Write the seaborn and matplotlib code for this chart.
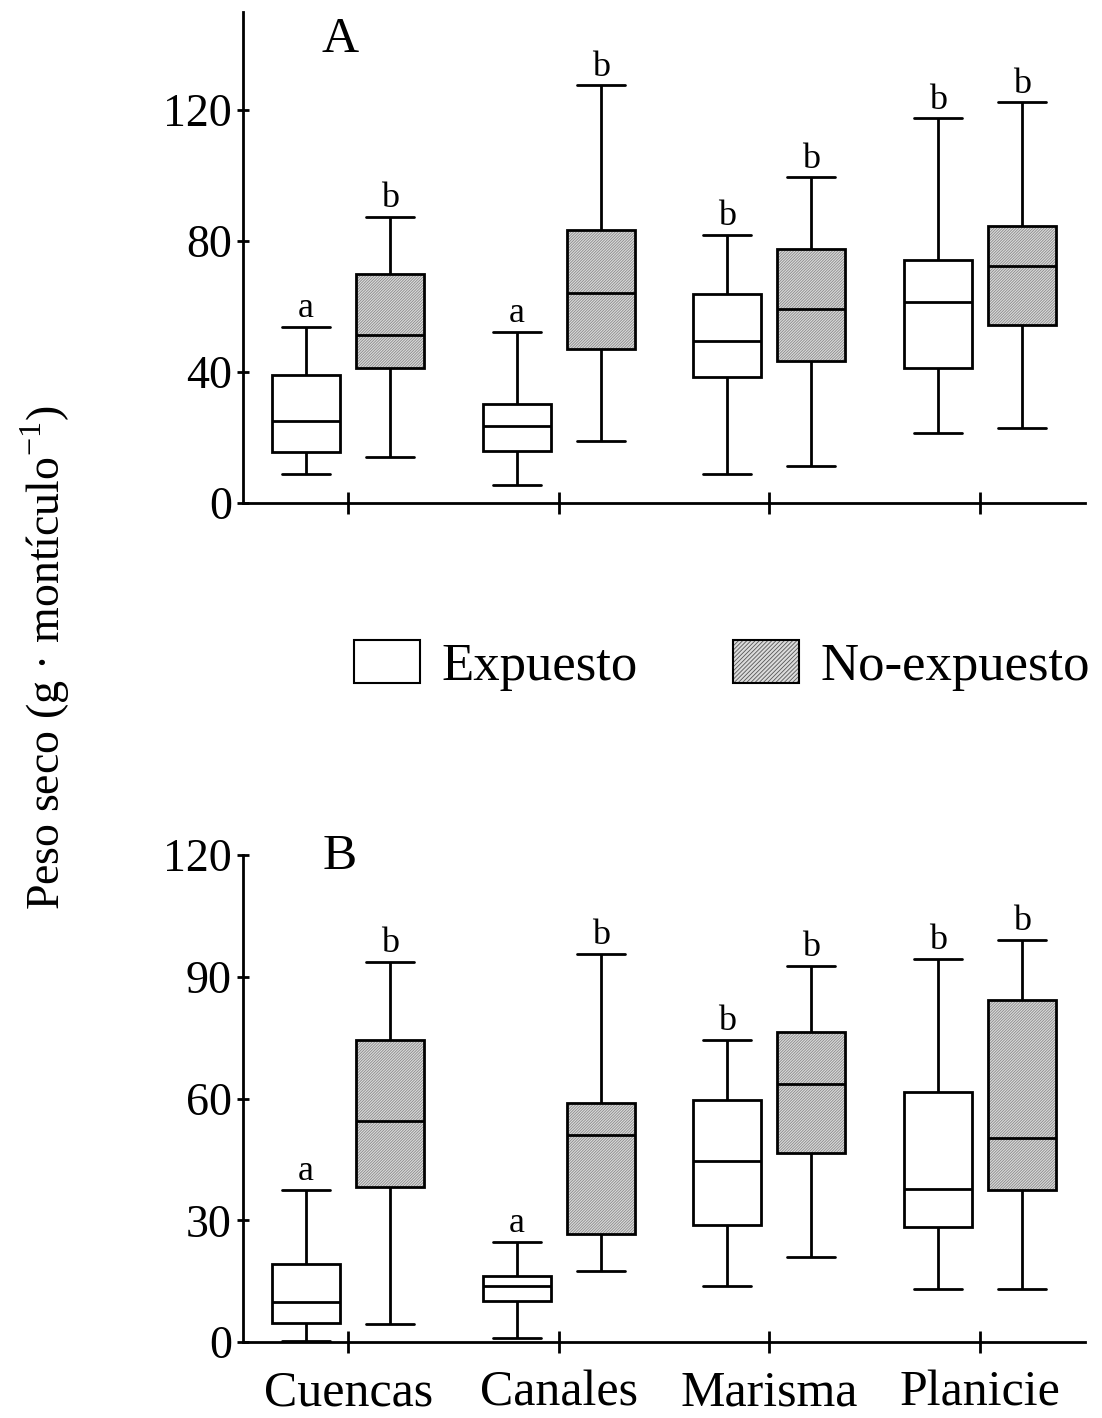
import numpy as np
import pandas as pd
import matplotlib
matplotlib.use("Agg")
import matplotlib.pyplot as plt
from matplotlib.patches import Patch, PathPatch
import seaborn as sns

# ---------------- data ----------------
sites = ["Cuencas", "Canales", "Marisma", "Planicie"]
treatments = ["Expuesto", "No-expuesto"]

# five-number summaries [min, q1, median, q3, max] per site
A_expuesto = [[8.9, 15.6, 25.1, 39.2, 53.9],
              [5.5, 15.9, 23.6, 30.3, 52.3],
              [8.9, 38.6, 49.6, 63.7, 82.0],
              [21.4, 41.3, 61.5, 74.1, 117.5]]
A_noexpuesto = [[14.1, 41.3, 51.4, 69.8, 87.5],
                [19.0, 47.1, 64.0, 83.3, 127.6],
                [11.3, 43.5, 59.1, 77.7, 99.5],
                [23.0, 54.5, 72.5, 84.5, 122.4]]
B_expuesto = [[0.2, 4.7, 9.9, 19.2, 37.5],
              [1.0, 10.1, 13.8, 16.3, 24.6],
              [13.8, 28.8, 44.6, 59.6, 74.4],
              [13.1, 28.3, 37.7, 61.6, 94.4]]
B_noexpuesto = [[4.4, 38.2, 54.5, 74.4, 93.6],
                [17.5, 26.6, 51.0, 58.9, 95.6],
                [20.9, 46.6, 63.6, 76.4, 92.7],
                [13.1, 37.5, 50.3, 84.3, 99.1]]

A_letters_exp = ["a", "a", "b", "b"]
A_letters_noexp = ["b", "b", "b", "b"]
B_letters_exp = ["a", "a", "b", "b"]
B_letters_noexp = ["b", "b", "b", "b"]

A_yticks = [0, 40, 80, 120]
B_yticks = [0, 30, 60, 90, 120]


def make_df(exp, noexp):
    rows = []
    for s, vals in zip(sites, exp):
        for v in vals:
            rows.append((s, treatments[0], v))
    for s, vals in zip(sites, noexp):
        for v in vals:
            rows.append((s, treatments[1], v))
    return pd.DataFrame(rows, columns=["site", "trat", "peso"])


sns.set_style("ticks")
plt.rcParams["font.family"] = ["Liberation Serif", "DejaVu Serif"]
plt.rcParams["mathtext.fontset"] = "custom"
plt.rcParams["mathtext.rm"] = "Liberation Serif"
for k in ("text.color", "axes.labelcolor", "xtick.color", "ytick.color",
          "axes.edgecolor"):
    plt.rcParams[k] = "black"
HCOL = "#8a8a8a"
plt.rcParams["hatch.color"] = HCOL
plt.rcParams["hatch.linewidth"] = 0.6

LW = 2.0
GRAY = "#dcdcdc"
HATCH = "/" * 12
palette = {"Expuesto": "white", "No-expuesto": GRAY}

fig = plt.figure(figsize=(11.02, 14.18), dpi=100)
axA = fig.add_axes([0.2205, 0.6453, 0.7641, 0.3463])
axB = fig.add_axes([0.2205, 0.0536, 0.7641, 0.3434])

BOXW = 0.4 * (1 - 0.19)


def draw(ax, exp, noexp, lexp, lnoexp, ylim, yticks, label, lab_xy, show_x):
    df = make_df(exp, noexp)
    sns.boxplot(data=df, x="site", y="peso", hue="trat", order=sites,
                hue_order=treatments, palette=palette, whis=(0, 100),
                width=0.8, gap=0.19, linewidth=LW, linecolor="black",
                dodge=True, showfliers=False, legend=False, ax=ax)
    for p in list(ax.patches):
        fc = p.get_facecolor()
        if fc[0] < 0.95:
            p.set_hatch(HATCH)
            p.set_edgecolor(HCOL)
            p.set_linewidth(0.0)
            outline = PathPatch(p.get_path(), transform=p.get_transform(),
                                facecolor="none", edgecolor="black",
                                linewidth=LW, zorder=p.get_zorder() + 0.05)
            ax.add_patch(outline)
    # widen whisker caps
    for ln in ax.lines:
        xd = np.asarray(ln.get_xdata(), dtype=float)
        yd = np.asarray(ln.get_ydata(), dtype=float)
        if len(xd) == 2 and yd[0] == yd[1]:
            w = abs(xd[1] - xd[0])
            if w < 0.8 * BOXW:
                c = xd.mean()
                ln.set_xdata([c - 0.35 * BOXW, c + 0.35 * BOXW])
    for i in range(len(sites)):
        for off, vals, lets in ((-0.2, exp, lexp), (0.2, noexp, lnoexp)):
            ax.annotate(lets[i], xy=(i + off, vals[i][4]), xytext=(0, 7),
                        textcoords="offset points", ha="center",
                        va="baseline", fontsize=26)
    ax.set_xlim(-0.5, 3.5)
    ax.set_ylim(*ylim)
    ax.set_yticks(yticks)
    ax.set_xlabel("")
    ax.set_ylabel("")
    sns.despine(ax=ax)
    for sp in ("left", "bottom"):
        ax.spines[sp].set_linewidth(LW)
    ax.tick_params(axis="y", direction="inout", length=8, width=LW,
                   labelsize=33, pad=4)
    ax.tick_params(axis="x", direction="inout", length=16, width=LW,
                   labelsize=36, pad=12)
    if not show_x:
        ax.set_xticklabels([])
    ax.text(lab_xy[0], lab_xy[1], label, transform=ax.transAxes,
            ha="center", va="center", fontsize=37)


draw(axA, A_expuesto, A_noexpuesto, A_letters_exp, A_letters_noexp,
     (0, 150), A_yticks, "A", (0.115, 0.943), False)
draw(axB, B_expuesto, B_noexpuesto, B_letters_exp, B_letters_noexp,
     (0, 120), B_yticks, "B", (0.115, 0.996), True)

h_exp = Patch(facecolor="white", edgecolor="black", linewidth=1.5)
h_no = (Patch(facecolor=GRAY, edgecolor="#555555", linewidth=0.0,
              hatch="/" * 8),
        Patch(facecolor="none", edgecolor="black", linewidth=1.5))
fig.legend([h_exp, h_no], treatments, loc="center",
           bbox_to_anchor=(0.655, 0.531),
           ncol=2, frameon=False, fontsize=38, handlelength=1.26,
           handleheight=0.89, handletextpad=0.4, columnspacing=1.8)

fig.text(45 / 1102, 1 - 658 / 1418,
         "Peso seco (g · montículo$^{\\mathregular{-1}}$)",
         rotation=90, ha="center", va="center", fontsize=33)

fig.savefig("out.png", dpi=100)
